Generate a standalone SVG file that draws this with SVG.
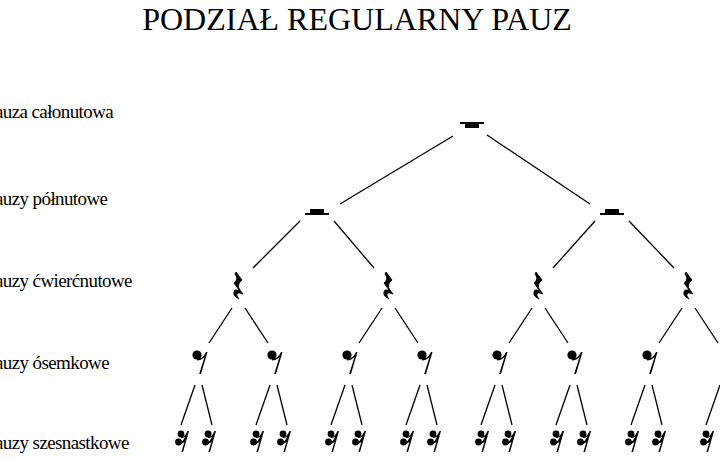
<svg xmlns="http://www.w3.org/2000/svg" width="720" height="464" viewBox="0 0 720 464">
<style>
text{font-family:"Liberation Serif","DejaVu Serif",Times,serif}
.l{font-size:19px;letter-spacing:-0.6px}
#conn line{stroke:#000;stroke-width:1.3}
</style>
<defs>
<g id="whole"><rect x="-12" y="0" width="24" height="2"/><rect x="-7" y="0" width="14" height="6"/></g>
<g id="half"><rect x="-12" y="4" width="24" height="2"/><rect x="-7" y="0" width="14" height="6"/></g>
<g id="quarter"><path d="M-2,-14 L4,-6 Q-2,-1 2,4 L5,8 Q-2,5 -1,10 L1,13 Q-7,9 -3,4 L1,4 L-4,-3 Q1,-7 -3,-12 Z" stroke="#000" stroke-width="0.8"/></g>
<g id="eighth"><circle cx="-3" cy="-5" r="4.6"/><path d="M-3,-1 Q3,-1 6,-8 L7.5,-8 L1,14 L-0.8,14 L4.5,-3 Q1,0.5 -3,0.5 Z"/></g>
<g id="six"><circle cx="-1" cy="-6" r="3.4"/><circle cx="-3.5" cy="2" r="3.4"/><path d="M-1,-3 Q3,-3 5.5,-9 L7,-9 L1,12 L-0.6,12 L2.4,2 Q0,4 -3.5,4.5 L-3.5,3 Q1,2 3.2,-3.5 Q1,-2 -1,-2 Z"/></g>
</defs>
<text x="357" y="30" font-size="32" text-anchor="middle" font-family="Liberation Serif, DejaVu Serif, serif">PODZIAŁ REGULARNY PAUZ</text>
<g id="labels" font-family="Liberation Serif, DejaVu Serif, serif">
<text x="-15" y="118" class="l">Pauza całonutowa</text>
<text x="-15" y="205" class="l">Pauzy półnutowe</text>
<text x="-15" y="287" class="l">Pauzy ćwierćnutowe</text>
<text x="-15" y="369" class="l">Pauzy ósemkowe</text>
<text x="-15" y="449" class="l">Pauzy szesnastkowe</text>
</g>
<g id="conn">
<line x1="453" y1="136" x2="340" y2="204"/><line x1="487" y1="135" x2="590" y2="204"/>
<line x1="300" y1="221" x2="253" y2="268"/><line x1="334" y1="221" x2="374" y2="268"/>
<line x1="595" y1="221" x2="553" y2="268"/><line x1="629" y1="221" x2="674" y2="268"/>
<line x1="232" y1="308" x2="209" y2="343"/><line x1="245" y1="308" x2="268" y2="343"/>
<line x1="382" y1="308" x2="359" y2="343"/><line x1="395" y1="308" x2="418" y2="343"/>
<line x1="532" y1="308" x2="509" y2="343"/><line x1="545" y1="308" x2="568" y2="343"/>
<line x1="682" y1="308" x2="659" y2="343"/><line x1="695" y1="308" x2="718" y2="343"/>
<line x1="195" y1="385" x2="181" y2="425"/><line x1="202" y1="385" x2="212" y2="425"/>
<line x1="270" y1="385" x2="256" y2="425"/><line x1="277" y1="385" x2="287" y2="425"/>
<line x1="345" y1="385" x2="331" y2="425"/><line x1="352" y1="385" x2="362" y2="425"/>
<line x1="420" y1="385" x2="406" y2="425"/><line x1="427" y1="385" x2="437" y2="425"/>
<line x1="495" y1="385" x2="481" y2="425"/><line x1="502" y1="385" x2="512" y2="425"/>
<line x1="570" y1="385" x2="556" y2="425"/><line x1="577" y1="385" x2="587" y2="425"/>
<line x1="645" y1="385" x2="631" y2="425"/><line x1="652" y1="385" x2="662" y2="425"/>
<line x1="720" y1="385" x2="706" y2="425"/>
</g>
<g id="n-whole"><use href="#whole" x="472" y="122"/></g>
<g id="n-half1"><use href="#half" x="317" y="209"/></g>
<g id="n-half2"><use href="#half" x="612" y="209"/></g>
<g id="n-quarters"><use href="#quarter" x="238" y="286"/><use href="#quarter" x="388" y="286"/><use href="#quarter" x="538" y="286"/><use href="#quarter" x="688" y="286"/></g>
<g id="n-eighths"><use href="#eighth" x="200" y="360"/><use href="#eighth" x="275" y="360"/><use href="#eighth" x="350" y="360"/><use href="#eighth" x="425" y="360"/><use href="#eighth" x="500" y="360"/><use href="#eighth" x="575" y="360"/><use href="#eighth" x="650" y="360"/></g>
<g id="n-six"><use href="#six" x="182" y="440"/><use href="#six" x="209" y="440"/><use href="#six" x="257" y="440"/><use href="#six" x="284" y="440"/><use href="#six" x="332" y="440"/><use href="#six" x="359" y="440"/><use href="#six" x="407" y="440"/><use href="#six" x="434" y="440"/><use href="#six" x="482" y="440"/><use href="#six" x="509" y="440"/><use href="#six" x="557" y="440"/><use href="#six" x="584" y="440"/><use href="#six" x="632" y="440"/><use href="#six" x="659" y="440"/><use href="#six" x="707" y="440"/></g>
</svg>
